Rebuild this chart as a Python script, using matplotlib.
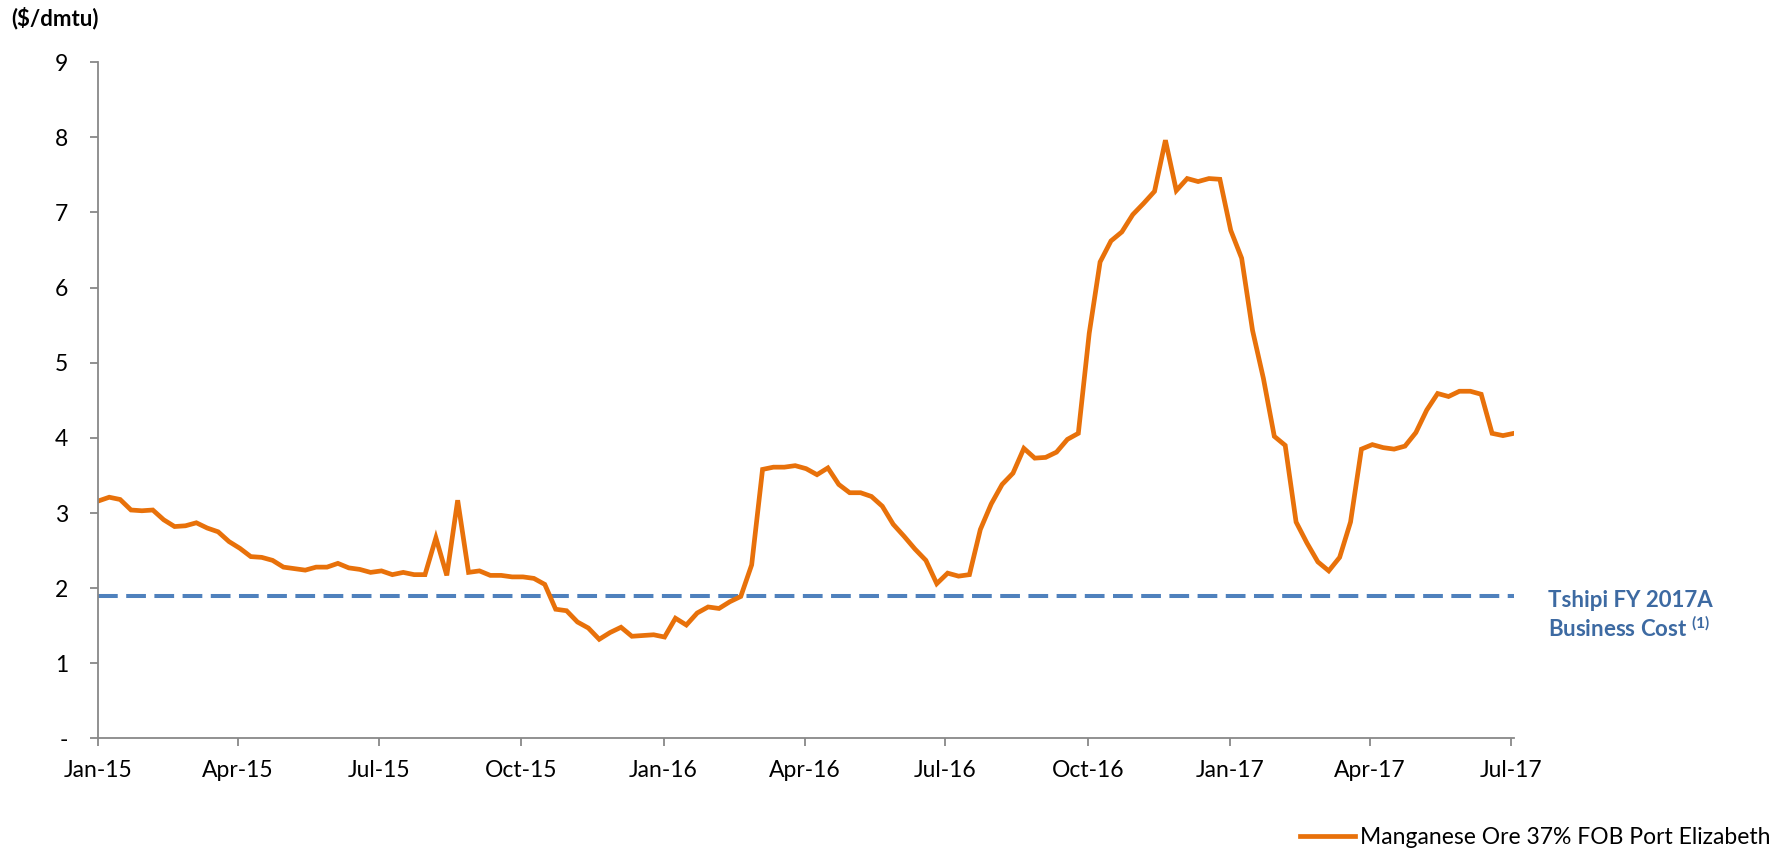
import matplotlib
matplotlib.use("Agg")
import matplotlib.pyplot as plt
import matplotlib.dates as mdates
import matplotlib.ticker as mticker
import pandas as pd

# weekly price ($/dmtu)
start_date = "2015-01-01"
end_date = "2017-07-03"
price = [
    3.16, 3.21, 3.18, 3.04, 3.03, 3.04, 2.91, 2.82, 2.83, 2.87,
    2.80, 2.75, 2.62, 2.53, 2.42, 2.41, 2.37, 2.28, 2.26, 2.24,
    2.28, 2.28, 2.33, 2.27, 2.25, 2.21, 2.23, 2.18, 2.21,
    2.18, 2.18, 2.67, 2.17, 3.17, 2.21, 2.23, 2.17, 2.17, 2.15,
    2.15, 2.13, 2.05, 1.72, 1.70, 1.55, 1.47, 1.32, 1.41, 1.48,
    1.36, 1.37, 1.38, 1.35, 1.60, 1.51, 1.67, 1.75, 1.73, 1.82,
    1.89, 2.31, 3.58, 3.61, 3.61, 3.63, 3.59, 3.51, 3.60, 3.38,
    3.27, 3.27, 3.22, 3.09, 2.85, 2.69, 2.52, 2.37, 2.06, 2.20,
    2.16, 2.18, 2.78, 3.12, 3.38, 3.53, 3.86, 3.73, 3.74, 3.81,
    3.98, 4.06, 5.39, 6.34, 6.62, 6.74, 6.97, 7.12, 7.28, 7.96,
    7.29, 7.45, 7.41, 7.45, 7.44, 6.76, 6.39, 5.43, 4.79, 4.02,
    3.90, 2.88, 2.60, 2.35, 2.23, 2.41, 2.88, 3.85, 3.91, 3.87,
    3.85, 3.89, 4.07, 4.37, 4.59, 4.55, 4.62, 4.62, 4.58, 4.06,
    4.03, 4.06,
]
business_cost = 1.9
series_label = "Manganese Ore 37% FOB Port Elizabeth"
cost_label = ["Tshipi FY 2017A", "Business Cost"]
y_ticks = [0, 1, 2, 3, 4, 5, 6, 7, 8, 9]

dates = pd.date_range(start_date, end_date, periods=len(price))

plt.rcParams['font.family'] = ['Lato', 'DejaVu Sans']
plt.rcParams['mathtext.fontset'] = 'custom'
plt.rcParams['mathtext.rm'] = 'Lato'
plt.rcParams['mathtext.bf'] = 'Lato:bold'

fig = plt.figure(figsize=(17.85, 8.51), dpi=100)
ax = fig.add_axes([0.0551, 0.1322, 0.793, 0.7949])

ax.plot(dates, [business_cost] * len(dates), color='#4F81BD', lw=2.9,
        dashes=(4.9, 2.1))
line, = ax.plot(dates, price, color='#E8710A', lw=3.4, label=series_label,
                solid_joinstyle='miter')

ax.set_xlim(dates[0], dates[-1])
ax.set_ylim(0, 9)
ax.set_yticks(y_ticks)
ax.yaxis.set_major_formatter(mticker.FuncFormatter(
    lambda v, p: '-' if v == 0 else f"{v:.0f}"))
ax.xaxis.set_major_locator(mdates.MonthLocator(bymonth=[1, 4, 7, 10]))
ax.xaxis.set_major_formatter(mdates.DateFormatter('%b-%y'))

for s in ['top', 'right']:
    ax.spines[s].set_visible(False)
for s in ['left', 'bottom']:
    ax.spines[s].set_color('#888888')
    ax.spines[s].set_linewidth(1.3)
ax.tick_params(axis='y', length=5.8, width=1.3, color='#888888', pad=16,
               labelsize=16.5)
ax.tick_params(axis='x', length=5.8, width=1.3, color='#888888', pad=10,
               labelsize=16.5)

fig.text(0.0065, 0.979, "($/dmtu)", fontsize=16, fontweight='bold',
         ha='left', va='center')

fig.text(0.8672, 0.2938, cost_label[0], fontsize=16, fontweight='bold',
         color='#3D6AA2', ha='left', va='center')
fig.text(0.8672, 0.262, cost_label[1] + r" $^{\mathbf{(1)}}$", fontsize=16,
         fontweight='bold', color='#3D6AA2', ha='left', va='center')

ax.legend(handles=[line], loc='center right', bbox_to_anchor=(0.9916, 0.0153),
          bbox_transform=fig.transFigure, frameon=False, fontsize=16.5,
          handlelength=2.4, handletextpad=0.2, borderpad=0, borderaxespad=0)

fig.savefig("out.png", dpi=100)
